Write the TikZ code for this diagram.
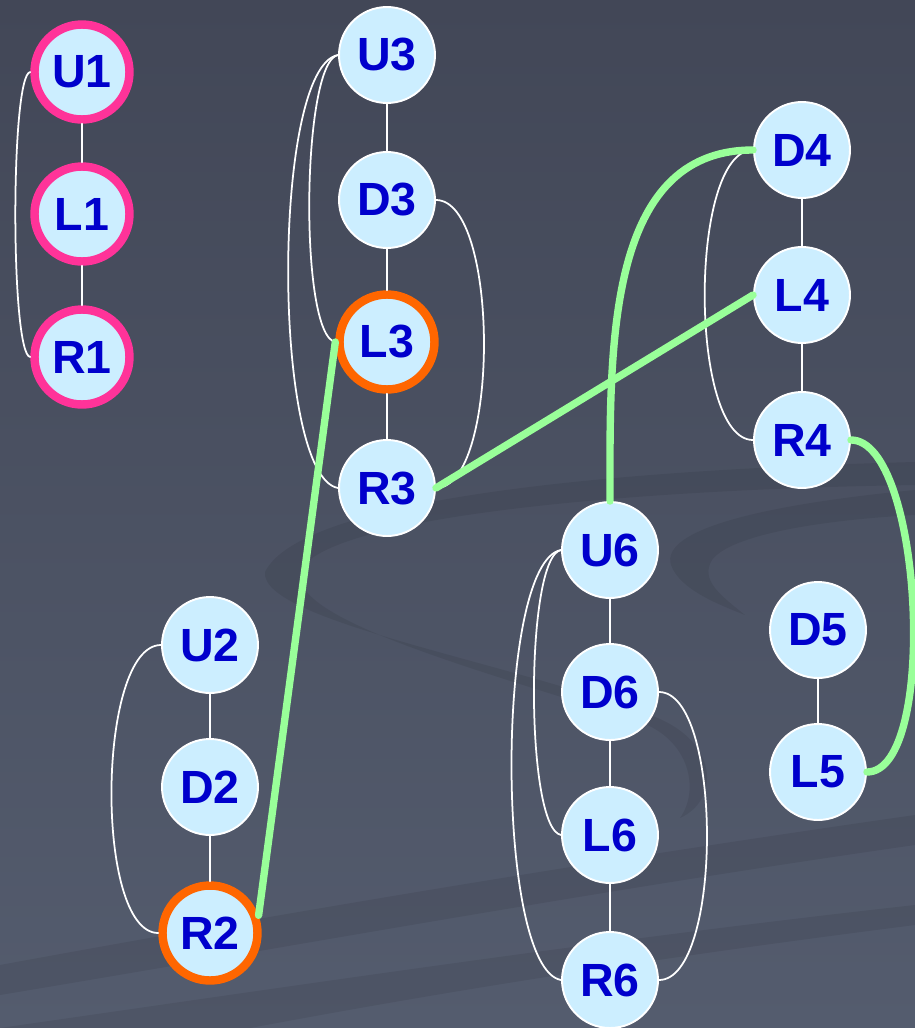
\documentclass[tikz,border=0pt]{standalone}
\usepackage{fontspec}
\setmainfont{Liberation Sans}
\definecolor{bgtop}{RGB}{66,71,87}
\definecolor{bgbottom}{RGB}{84,92,110}
\definecolor{nodefill}{RGB}{204,238,255}
\definecolor{nodetext}{RGB}{0,0,204}
\definecolor{pinkring}{RGB}{255,51,153}
\definecolor{orangering}{RGB}{255,102,0}
\definecolor{linkgreen}{RGB}{153,255,153}
\begin{document}
\begin{tikzpicture}[x=0.02cm,y=-0.02cm,line join=round,line cap=round,
	vtx/.style={circle,minimum size=1.92cm,inner sep=0pt,fill=nodefill,draw=white,line width=1.1pt,text=nodetext,font=\fontsize{26.5}{30}\selectfont\bfseries},
	pinkvtx/.style={vtx,draw=pinkring,line width=4.8pt,minimum size=1.9cm},
	orangevtx/.style={vtx,draw=orangering,line width=4.8pt,minimum size=1.9cm},
	wire/.style={white,line width=1pt},
	link/.style={linkgreen,line width=4.2pt}]
	% background
	\fill[top color=bgtop,bottom color=bgbottom] (0,0) rectangle (915,1028);
	\useasboundingbox (0,0) rectangle (915,1028);
	\begin{scope}[black,fill opacity=0.07]
		\fill (915,462) .. controls (600,470) and (300,500) .. (265,572)
			.. controls (260,620) and (500,660) .. (650,715)
			.. controls (720,740) and (720,800) .. (680,818)
			.. controls (700,790) and (690,740) .. (640,722)
			.. controls (480,670) and (290,620) .. (300,572)
			.. controls (320,520) and (600,490) .. (915,485) -- cycle;
		\fill (915,490) .. controls (760,505) and (660,530) .. (671,565)
			.. controls (680,590) and (720,605) .. (745,615)
			.. controls (720,595) and (700,580) .. (712,560)
			.. controls (730,535) and (820,520) .. (915,515) -- cycle;
		\fill (0,965) .. controls (300,910) and (600,860) .. (915,815)
			-- (915,845) .. controls (600,890) and (300,945) .. (0,995) -- cycle;
		\fill (0,1028) .. controls (300,985) and (600,940) .. (915,905)
			-- (915,925) .. controls (600,965) and (400,1000) .. (250,1028) -- cycle;
	\end{scope}
	% nodes
	\node[pinkvtx] (U1) at (82,72) {U1};
	\node[pinkvtx] (L1) at (82,214) {L1};
	\node[pinkvtx] (R1) at (82,357) {R1};
	\node[vtx] (U3) at (387,55) {U3};
	\node[vtx] (D3) at (387,200) {D3};
	\node[orangevtx] (L3) at (387,342) {L3};
	\node[vtx] (R3) at (387,488) {R3};
	\node[vtx] (D4) at (802,150) {D4};
	\node[vtx] (L4) at (802,295) {L4};
	\node[vtx] (R4) at (802,440) {R4};
	\node[vtx] (U2) at (210,645) {U2};
	\node[vtx] (D2) at (210,787) {D2};
	\node[orangevtx] (R2) at (210,933) {R2};
	\node[vtx] (U6) at (610,550) {U6};
	\node[vtx] (D6) at (610,692) {D6};
	\node[vtx] (L6) at (610,835) {L6};
	\node[vtx] (R6) at (610,980) {R6};
	\node[vtx] (D5) at (818,630) {D5};
	\node[vtx] (L5) at (818,772) {L5};
	% white edges
	\foreach \a/\b in {U1/L1,L1/R1,U3/D3,D3/L3,L3/R3,D4/L4,L4/R4,U2/D2,D2/R2,U6/D6,D6/L6,L6/R6,D5/L5}
		\draw[wire] (\a) -- (\b);
	\draw[wire] (U1.west) to[out=185,in=175,looseness=0.18] (R1.west);
	\draw[wire] (U3.west) to[out=190,in=170,looseness=0.33] (L3.west);
	\draw[wire] (U3.west) to[out=190,in=170,looseness=0.4] (R3.west);
	\draw[wire] (D3.east) to[out=0,in=0,looseness=0.57] (R3.east);
	\draw[wire] (D4.west) to[out=180,in=180,looseness=0.57] (R4.west);
	\draw[wire] (U2.west) to[out=180,in=180,looseness=0.57] (R2.west);
	\draw[wire] (U6.west) to[out=190,in=170,looseness=0.33] (L6.west);
	\draw[wire] (U6.west) to[out=190,in=170,looseness=0.4] (R6.west);
	\draw[wire] (D6.east) to[out=0,in=0,looseness=0.57] (R6.east);
	% green links
	\draw[link] (R2.20) -- (L3.west);
	\draw[link] (R3.east) -- (L4.west);
	\draw[link] (U6.north) to[out=90,in=180] (D4.west);
	\draw[link] (R4.east) .. controls +(72,0) and +(72,0) .. (L5.east);
\end{tikzpicture}
\end{document}
